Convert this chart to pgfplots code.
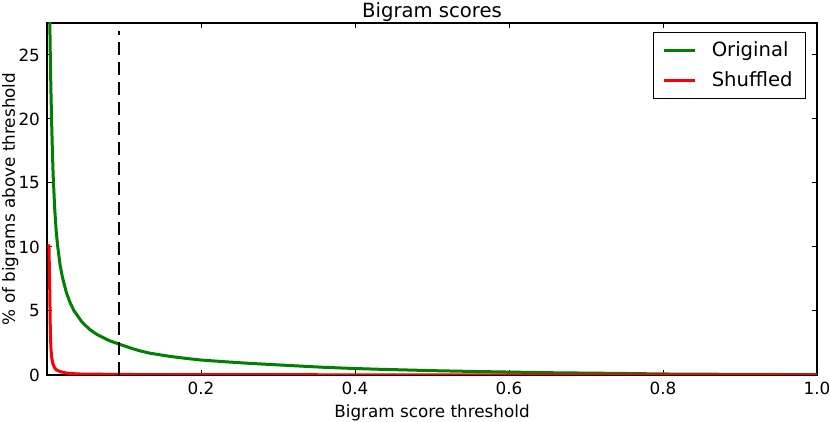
\documentclass[border=0pt]{standalone}
\usepackage{fontspec}
\setmainfont{DejaVu Sans}
\usepackage{pgfplots}
\pgfplotsset{compat=1.18}

\definecolor{mplgreen}{RGB}{0,128,0}
\definecolor{mplred}{RGB}{255,0,0}

\begin{document}
\begin{tikzpicture}
\begin{axis}[
  scale only axis,
  width=385pt, height=176pt,
  xmin=0, xmax=1, ymin=0, ymax=27.5,
  xtick={0.2,0.4,0.6,0.8,1.0},
  ytick={0,5,10,15,20,25},
  xticklabel style={/pgf/number format/fixed, /pgf/number format/fixed zerofill,
    /pgf/number format/precision=1, anchor=base, yshift=-10pt},
  /pgf/number format/assume math mode=true,
  tick align=inside,
  major tick length=2.5pt,
  tick style={black, line width=0.5pt},
  axis line style={line width=0.9pt},
  tick label style={font=\fontsize{8.4}{10}\selectfont},
  label style={font=\fontsize{8.4}{10}\selectfont},
  title={Bigram scores},
  title style={font=\fontsize{9.8}{11}\selectfont, at={(axis description cs:0.5,1)},
    anchor=base, yshift=-3.5pt},
  xlabel={Bigram score threshold},
  ylabel={\% of bigrams above threshold},
  xlabel style={at={(axis description cs:0.5,0)}, anchor=base, yshift=-21.5pt},
  ylabel style={at={(axis description cs:-0.0416,0.5)}, anchor=base, rotate=0},
  legend style={at={(1,1)}, anchor=north east, xshift=-5.5pt, yshift=-4.5pt,
    draw=black, line width=0.5pt, font=\fontsize{9.8}{11}\selectfont,
    inner xsep=4.5pt, inner ysep=2.5pt, row sep=2pt, nodes={inner sep=2pt},
    /tikz/every odd column/.append style={column sep=5.5pt}},
  legend cell align=left,
  legend image code/.code={\draw[#1, line width=1.5pt] (0pt,0pt) -- (15.5pt,0pt);},
]
\addplot[mplgreen, line width=1.5pt] coordinates {
 (0.0025,36) (0.0030,31.5) (0.0040,26.0) (0.0050,22.5) (0.0060,19.8)
 (0.0070,17.5) (0.0080,15.6) (0.0100,13.0) (0.0120,11.2) (0.0140,10.0)
 (0.0170,8.6) (0.0200,7.65) (0.0250,6.47) (0.0300,5.65) (0.0350,5.03)
 (0.0450,4.17) (0.0550,3.58) (0.0650,3.16) (0.0800,2.71) (0.0940,2.40)
 (0.1100,2.08) (0.1210,1.88) (0.1340,1.70) (0.1600,1.45) (0.1800,1.30)
 (0.2000,1.17) (0.2300,1.04) (0.2630,0.91) (0.3000,0.79) (0.3280,0.70)
 (0.3600,0.60) (0.3930,0.52) (0.4300,0.45) (0.5000,0.34) (0.5500,0.28)
 (0.6000,0.23) (0.6500,0.18) (0.7000,0.15) (0.7500,0.12) (0.8000,0.08)
 (0.9000,0.05) (1.0000,0.03)
};
\addlegendentry{Original}
\addplot[mplred, line width=1.5pt] coordinates {
 (0.0025,10.2) (0.0035,7.0) (0.0042,4.0) (0.0050,2.2) (0.0060,1.4)
 (0.0075,0.9) (0.0095,0.6) (0.0120,0.4) (0.0180,0.25) (0.0250,0.15)
 (0.0400,0.08) (0.1000,0.04) (0.3000,0.02) (1.0000,0.01)
};
\addlegendentry{Shuffled}
\addplot[black, line width=1pt, dash pattern=on 6.5pt off 3.5pt, forget plot]
  coordinates {(0.094,0) (0.094,26.9)};
\end{axis}
\pgfresetboundingbox
\useasboundingbox (-23.5pt,-23.5pt) rectangle (391.5pt,187.5pt);
\end{tikzpicture}
\end{document}
